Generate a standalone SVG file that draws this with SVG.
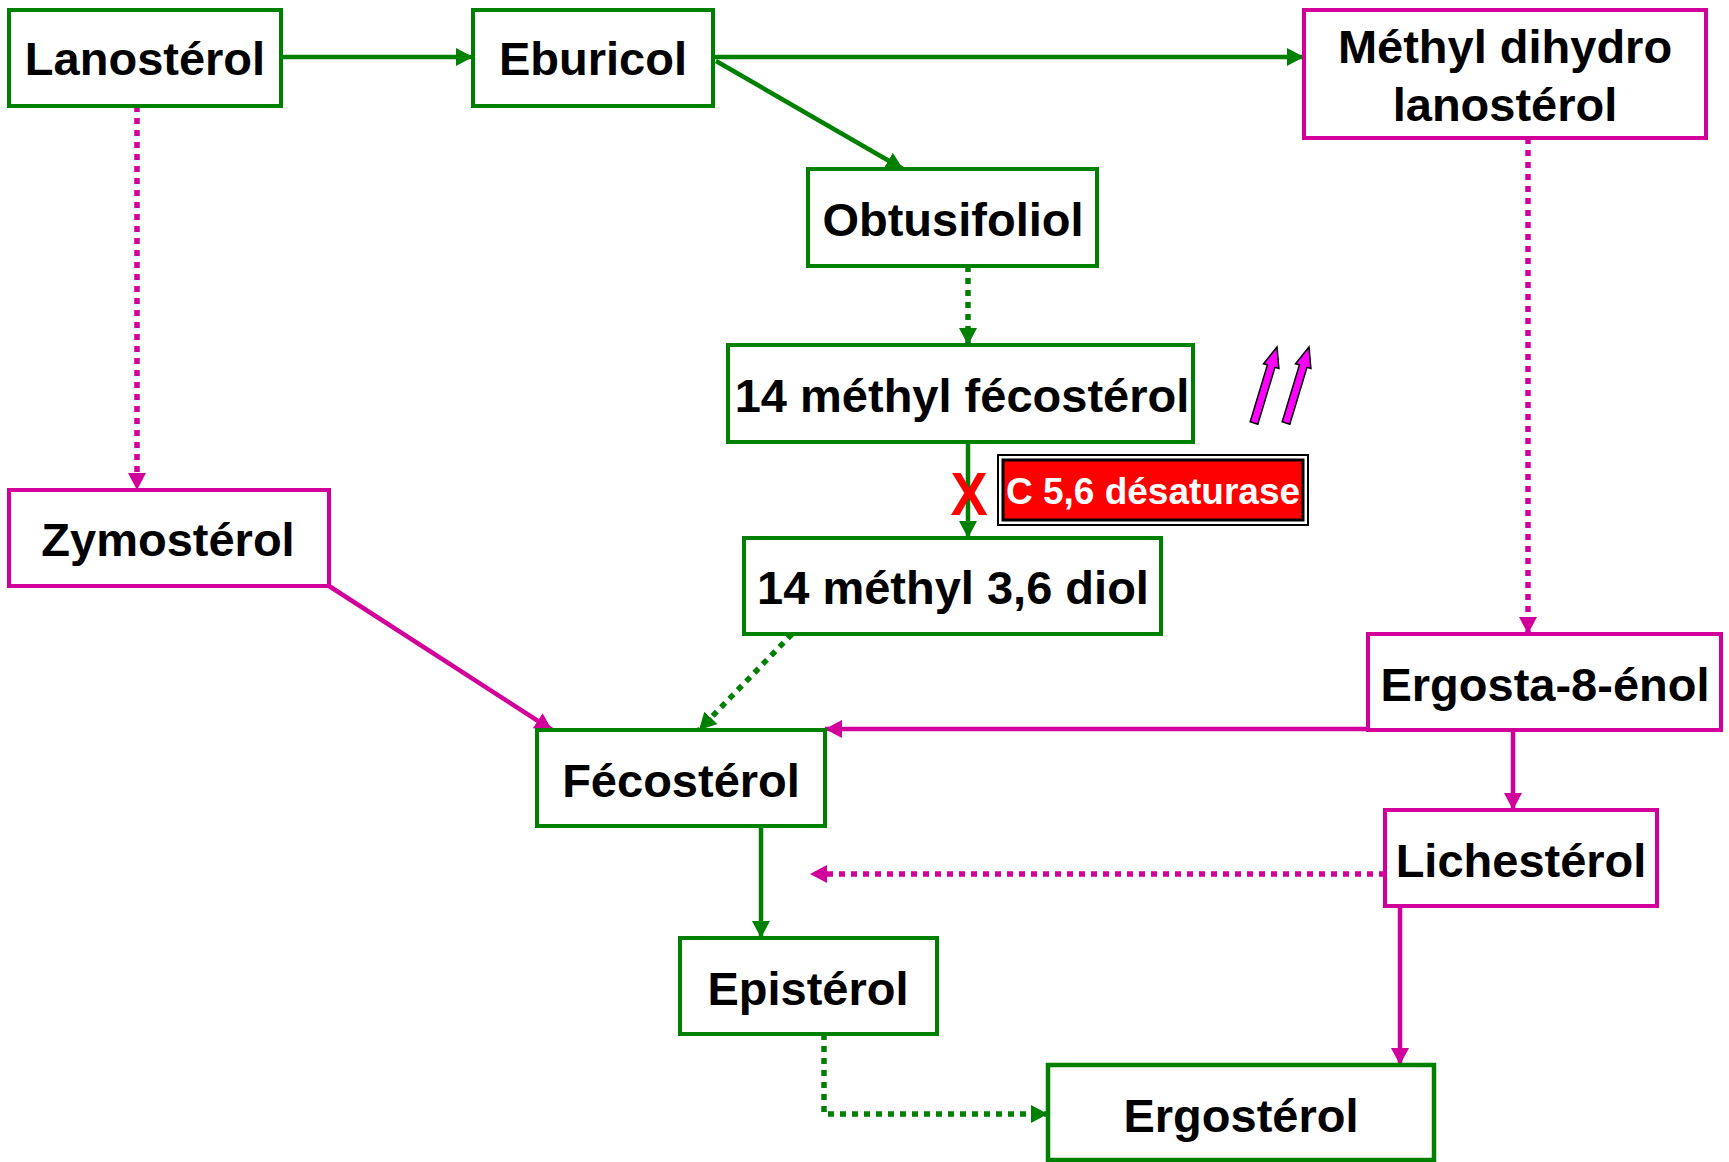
<svg xmlns="http://www.w3.org/2000/svg" xmlns:xlink="http://www.w3.org/1999/xlink" width="1729" height="1162" viewBox="0 0 1729 1162">
<style>
.g{fill:#fff;stroke:#008000;stroke-width:4}
.m{fill:#fff;stroke:#D1009A;stroke-width:4}
.t{font-family:"Liberation Sans",Arial,sans-serif;font-weight:bold;font-size:47px;fill:#000;text-anchor:middle}
.cg{fill:none;stroke:#008000;stroke-width:4.5}
.cm{fill:none;stroke:#D1009A;stroke-width:4.5}
.dot{stroke-dasharray:6 6;stroke-width:5.5}
</style>
<defs>
<marker id="ag" markerUnits="userSpaceOnUse" markerWidth="18" markerHeight="18" refX="17" refY="9" orient="auto"><path d="M0,0 L17,9 L0,18 z" fill="#008000"/></marker>
<marker id="am" markerUnits="userSpaceOnUse" markerWidth="18" markerHeight="18" refX="17" refY="9" orient="auto"><path d="M0,0 L17,9 L0,18 z" fill="#D1009A"/></marker>
<polygon id="up" points="1250.2,421.8 1267.4,364.9 1263.5,363.8 1277,347 1278.9,368.4 1275,367.3 1257.8,424.2" fill="#FF00FF" stroke="#000" stroke-width="1.5"/>
</defs>
<rect width="1729" height="1162" fill="#fff"/>
<g id="connectors">
<line class="cg" x1="281" y1="57" x2="473" y2="57" marker-end="url(#ag)"/>
<line class="cg" x1="713" y1="57" x2="1304" y2="57" marker-end="url(#ag)"/>
<line class="cg" x1="716" y1="61" x2="903" y2="169" marker-end="url(#ag)"/>
<line class="cm dot" x1="137" y1="106" x2="137" y2="490" marker-end="url(#am)"/>
<line class="cg dot" x1="968" y1="266" x2="968" y2="345" marker-end="url(#ag)"/>
<line class="cg" x1="968" y1="442" x2="968" y2="538" marker-end="url(#ag)"/>
<line class="cg dot" x1="792" y1="634" x2="699" y2="730" marker-end="url(#ag)"/>
<line class="cm" x1="329" y1="586" x2="552" y2="730" marker-end="url(#am)"/>
<line class="cm dot" x1="1528" y1="138" x2="1528" y2="634" marker-end="url(#am)"/>
<line class="cm" x1="1368" y1="729" x2="825" y2="729" marker-end="url(#am)"/>
<line class="cm" x1="1513" y1="730" x2="1513" y2="810" marker-end="url(#am)"/>
<line class="cm dot" x1="1385" y1="874" x2="810" y2="874" marker-end="url(#am)"/>
<line class="cm" x1="1400" y1="906" x2="1400" y2="1065" marker-end="url(#am)"/>
<line class="cg" x1="761" y1="826" x2="761" y2="938" marker-end="url(#ag)"/>
<polyline class="cg dot" points="824,1034 824,1114 1048,1114" marker-end="url(#ag)"/>
</g>
<g id="lanosterol"><rect class="g" x="9" y="10" width="272" height="96"/><text class="t" x="145" y="75">Lanostérol</text></g>
<g id="eburicol"><rect class="g" x="473" y="10" width="240" height="96"/><text class="t" x="593" y="75">Eburicol</text></g>
<g id="methyl-dihydro-lanosterol"><rect class="m" x="1304" y="10" width="402" height="128"/><text class="t" x="1505" y="63">Méthyl dihydro</text><text class="t" x="1505" y="121">lanostérol</text></g>
<g id="obtusifoliol"><rect class="g" x="808" y="169" width="289" height="97"/><text class="t" x="953" y="236">Obtusifoliol</text></g>
<g id="methyl-fecosterol"><rect class="g" x="728" y="345" width="465" height="97"/><text class="t" x="962" y="412">14 méthyl fécostérol</text></g>
<g id="desaturase"><rect x="998" y="455" width="310" height="70" fill="#fff" stroke="#000" stroke-width="2"/><rect x="1003" y="460" width="300" height="60" fill="#FF0000" stroke="#000" stroke-width="3"/><text x="1153" y="504" font-family="Liberation Sans,Arial,sans-serif" font-weight="bold" font-size="37" fill="#fff" text-anchor="middle">C 5,6 désaturase</text></g>
<g id="inhibition"><text x="969" y="515" font-family="Liberation Sans,Arial,sans-serif" font-weight="bold" font-size="62" fill="#FF0000" text-anchor="middle" transform="translate(969,0) scale(0.9,1) translate(-969,0)">X</text></g>
<g id="increase"><use xlink:href="#up"/><use xlink:href="#up" transform="translate(32,0)"/></g>
<g id="methyl-diol"><rect class="g" x="744" y="538" width="417" height="96"/><text class="t" x="953" y="604">14 méthyl 3,6 diol</text></g>
<g id="zymosterol"><rect class="m" x="9" y="490" width="320" height="96"/><text class="t" x="168" y="556">Zymostérol</text></g>
<g id="fecosterol"><rect class="g" x="537" y="730" width="288" height="96"/><text class="t" x="681" y="797">Fécostérol</text></g>
<g id="ergosta-8-enol"><rect class="m" x="1368" y="634" width="353" height="96"/><text class="t" x="1545" y="701">Ergosta-8-énol</text></g>
<g id="lichesterol"><rect class="m" x="1385" y="810" width="272" height="96"/><text class="t" x="1521" y="877">Lichestérol</text></g>
<g id="episterol"><rect class="g" x="680" y="938" width="257" height="96"/><text class="t" x="808" y="1005">Epistérol</text></g>
<g id="ergosterol"><rect class="g" x="1048" y="1065" width="386" height="95" style="stroke-width:4.5"/><text class="t" x="1241" y="1132">Ergostérol</text></g>
</svg>
